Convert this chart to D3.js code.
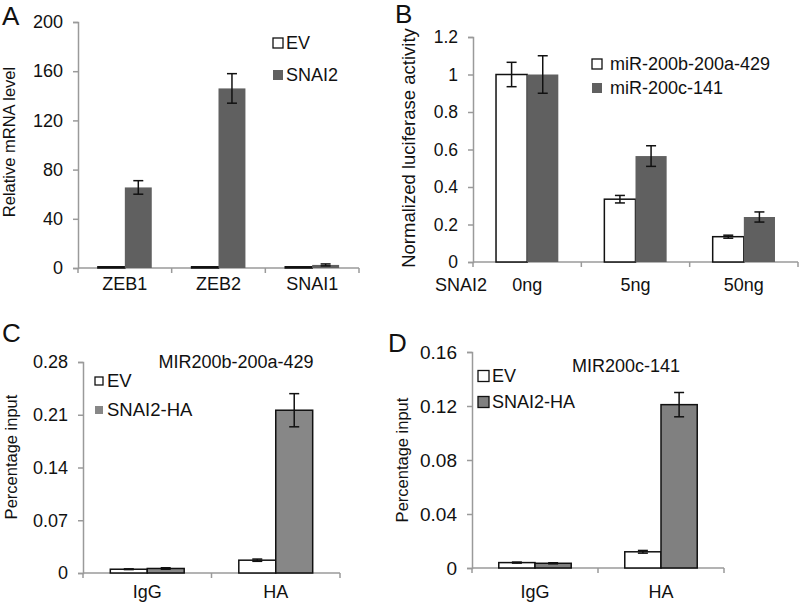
<!DOCTYPE html>
<html><head><meta charset="utf-8">
<script src="https://cdn.jsdelivr.net/npm/d3@7"></script>
<style>body{margin:0;background:#fff}svg{display:block;font-family:"Liberation Sans",Arial,sans-serif}</style>
</head><body>
<svg id="c" width="800" height="605"></svg>
<script>
// Panel A
const catsA = ["ZEB1", "ZEB2", "SNAI1"];
const evA = [1, 1, 1];
const evAErr = [0, 0, 0];
const snaiA = [65.5, 146, 2.5];
const snaiAErr = [5.5, 12, 0.8];
const ticksA = [0, 40, 80, 120, 160, 200];
const legendA = ["EV", "SNAI2"];
// Panel B
const catsB = ["0ng", "5ng", "50ng"];
const evB = [1.0, 0.335, 0.135];
const evBErr = [0.065, 0.02, 0.008];
const snaiB = [1.0, 0.565, 0.24];
const snaiBErr = [0.1, 0.055, 0.027];
const ticksB = [0, 0.2, 0.4, 0.6, 0.8, 1, 1.2];
const legendB = ["miR-200b-200a-429", "miR-200c-141"];
// Panel C
const catsC = ["IgG", "HA"];
const evC = [0.005, 0.017];
const evCErr = [0.0005, 0.0015];
const snaiC = [0.006, 0.216];
const snaiCErr = [0.001, 0.022];
const ticksC = [0, 0.07, 0.14, 0.21, 0.28];
const legendC = ["EV", "SNAI2-HA"];
// Panel D
const catsD = ["IgG", "HA"];
const evD = [0.004, 0.012];
const evDErr = [0.0004, 0.001];
const snaiD = [0.0035, 0.121];
const snaiDErr = [0.0004, 0.009];
const ticksD = [0, 0.04, 0.08, 0.12, 0.16];
const legendD = ["EV", "SNAI2-HA"];

const svg = d3.select("#c");

function panel(o) {
  const g = svg.append("g");
  const x = d3.scaleBand().domain(o.cats).range([o.x0, o.x1]).padding(0);
  const y = d3.scaleLinear().domain([0, o.ticks[o.ticks.length - 1]]).range([o.y0, o.y1]);
  const gw = x.bandwidth() * 0.575, bw = gw / 2;
  const axisCol = "#9a9a9a";
  // y axis
  const ya = g.append("g").attr("transform", `translate(${o.x0},0)`)
    .call(d3.axisLeft(y).tickValues(o.ticks).tickSize(5).tickPadding(o.tickPad || 10).tickFormat(o.fmt));
  ya.select(".domain").attr("stroke", axisCol).attr("stroke-width", 1.5);
  ya.selectAll(".tick line").attr("stroke", axisCol).attr("stroke-width", 1.5);
  ya.selectAll("text").attr("font-size", o.tickFs || 18).attr("fill", "#111").attr("font-family", "Liberation Sans, Arial");
  // x axis line & boundary ticks
  g.append("line").attr("x1", o.x0).attr("x2", o.x1).attr("y1", o.y0).attr("y2", o.y0)
    .attr("stroke", axisCol).attr("stroke-width", 1.5);
  const bounds = o.cats.map(c => x(c)).concat([o.x1]);
  g.selectAll(".bt").data(bounds).join("line").attr("x1", d => d).attr("x2", d => d)
    .attr("y1", o.y0).attr("y2", o.y0 + 5).attr("stroke", axisCol).attr("stroke-width", 1.5);
  // x labels
  g.selectAll(".xl").data(o.cats).join("text")
    .attr("x", d => x(d) + x.bandwidth() / 2).attr("y", o.xLabY)
    .attr("text-anchor", "middle").attr("font-size", 18).attr("fill", "#111").text(d => d);
  // bars
  const series = [
    {vals: o.ev, err: o.evErr, fill: "#fff", stroke: "#111", off: -bw},
    {vals: o.sn, err: o.snErr, fill: o.grey, stroke: o.greyStroke, off: 0}
  ];
  series.forEach(s => {
    o.cats.forEach((c, i) => {
      const cx = x(c) + x.bandwidth() / 2 + s.off;
      const yt = y(s.vals[i]);
      g.append("rect").attr("x", cx).attr("y", yt).attr("width", bw).attr("height", o.y0 - yt)
        .attr("fill", s.fill).attr("stroke", s.stroke).attr("stroke-width", s.stroke === "none" ? 0 : 1.5);
      if (s.err[i] > 0) {
        const mx = cx + bw / 2;
        const ya1 = y(s.vals[i] + s.err[i]), ya2 = y(s.vals[i] - s.err[i]);
        g.append("line").attr("x1", mx).attr("x2", mx).attr("y1", ya1).attr("y2", ya2).attr("stroke", "#111").attr("stroke-width", 1.5);
        [ya1, ya2].forEach(yy => g.append("line").attr("x1", mx - 5).attr("x2", mx + 5).attr("y1", yy).attr("y2", yy).attr("stroke", "#111").attr("stroke-width", 1.5));
      }
    });
  });
  // legend
  o.legend.forEach((t, i) => {
    const ly = o.legY + i * o.legDy;
    g.append("rect").attr("x", o.legX).attr("y", ly - o.legSq / 2).attr("width", o.legSq).attr("height", o.legSq)
      .attr("fill", i === 0 ? "#fff" : o.legGrey).attr("stroke", i === 0 ? "#111" : o.legGreyStroke)
      .attr("stroke-width", (i === 0 || o.legGreyStroke !== "none") ? 1.3 : 0);
    g.append("text").attr("x", o.legX + o.legSq + o.legGap).attr("y", ly).attr("dy", "0.35em")
      .attr("font-size", o.legFs).attr("fill", "#111").text(t);
  });
  // y title
  g.append("text").attr("transform", `translate(${o.ytX},${o.ytY}) rotate(-90)`)
    .attr("text-anchor", "middle").attr("font-size", o.ytFs).attr("fill", "#111").text(o.yTitle);
  // panel letter
  g.append("text").attr("x", o.letX).attr("y", o.letY).attr("font-size", 26).attr("fill", "#111").text(o.letter);
  if (o.title) g.append("text").attr("x", o.titleX).attr("y", o.titleY).attr("text-anchor", "middle")
    .attr("font-size", 18).attr("fill", "#111").text(o.title);
  return g;
}

const fmtPlain = d => String(d);

panel({cats: catsA, ev: evA, evErr: evAErr, sn: snaiA, snErr: snaiAErr, ticks: ticksA, fmt: fmtPlain,
  x0: 78, x1: 359, y0: 268, y1: 22, xLabY: 290, grey: "#606060", greyStroke: "none",
  legend: legendA, legX: 273, legY: 43, legDy: 32, legSq: 10, legGap: 3, legFs: 18, legGrey: "#606060", legGreyStroke: "none",
  yTitle: "Relative  mRNA level", ytX: 15, ytY: 142, ytFs: 16.5, letter: "A", letX: 2, letY: 25});

const gB = panel({cats: catsB, ev: evB, evErr: evBErr, sn: snaiB, snErr: snaiBErr, ticks: ticksB, fmt: fmtPlain,
  x0: 473, x1: 798, y0: 262, y1: 37, xLabY: 291, grey: "#606060", greyStroke: "none", tickFs: 17.5,
  legend: legendB, legX: 592, legY: 64, legDy: 24, legSq: 10, legGap: 8, legFs: 18, legGrey: "#606060", legGreyStroke: "none",
  yTitle: "Normalized luciferase activity", ytX: 415, ytY: 148, ytFs: 18.5, letter: "B", letX: 395, letY: 23});
gB.append("text").attr("x", 435).attr("y", 291).attr("font-size", 18).attr("fill", "#111").text("SNAI2");

panel({cats: catsC, ev: evC, evErr: evCErr, sn: snaiC, snErr: snaiCErr, ticks: ticksC, fmt: fmtPlain,
  x0: 83, x1: 340, y0: 573, y1: 362, xLabY: 598, grey: "#878787", greyStroke: "#111",
  legend: legendC, legX: 95, legY: 381, legDy: 29, legSq: 8, legGap: 4, legFs: 18.5, legGrey: "#878787", legGreyStroke: "none",
  yTitle: "Percentage input", ytX: 17, ytY: 457, ytFs: 16.5, letter: "C", letX: 2, letY: 342,
  title: "MIR200b-200a-429", titleX: 236, titleY: 368});

panel({cats: catsD, ev: evD, evErr: evDErr, sn: snaiD, snErr: snaiDErr, ticks: ticksD, fmt: fmtPlain,
  x0: 472, x1: 724, y0: 568, y1: 352, xLabY: 598, grey: "#808080", greyStroke: "#111", tickFs: 19,
  legend: legendD, legX: 478, legY: 376, legDy: 26, legSq: 11, legGap: 3, legFs: 18, legGrey: "#808080", legGreyStroke: "#111",
  yTitle: "Percentage input", ytX: 408, ytY: 460, ytFs: 16.5, letter: "D", letX: 388, letY: 352,
  title: "MIR200c-141", titleX: 626, titleY: 372});
</script>
</body></html>
